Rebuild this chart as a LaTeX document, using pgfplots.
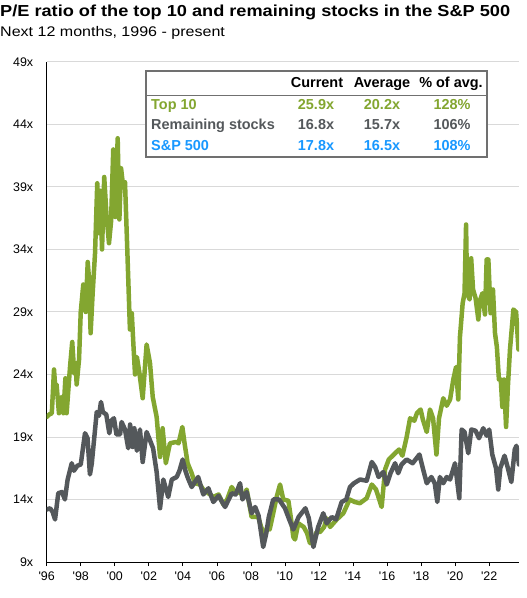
\documentclass[border=0pt]{standalone}
\usepackage{pgfplots}
\pgfplotsset{compat=1.18}
\usepackage{fontspec}
\setmainfont{Liberation Sans}

\definecolor{topgreen}{RGB}{131,166,48}
\definecolor{restgray}{RGB}{84,88,91}
\definecolor{spblue}{RGB}{24,152,255}
\definecolor{gridgray}{RGB}{217,217,217}
\definecolor{boxgray}{RGB}{112,112,112}

\begin{document}
\begin{tikzpicture}
\useasboundingbox (0,0) rectangle (527bp,598bp);

% title and subtitle
\node[anchor=base west, inner sep=0, xscale=1.14, transform shape, font=\bfseries\fontsize{16}{18}\selectfont] at (0,581bp)
  {P/E ratio of the top 10 and remaining stocks in the S\&P 500};
\node[anchor=base west, inner sep=0, xscale=1.15, transform shape, font=\fontsize{14}{16}\selectfont] at (0,561bp)
  {Next 12 months, 1996 - present};

\begin{axis}[
    at={(46.7bp,36bp)}, anchor=south west,
    scale only axis,
    width=472.3bp, height=500bp,
    xmin=1996, xmax=2023.75,
    ymin=9, ymax=49,
    axis x line*=bottom, axis y line*=left,
    axis line style={black, line width=1pt},
    xtick={1996,1998,...,2022},
    xticklabels={\textquotesingle96,\textquotesingle98,\textquotesingle00,\textquotesingle02,\textquotesingle04,\textquotesingle06,\textquotesingle08,\textquotesingle10,\textquotesingle12,\textquotesingle14,\textquotesingle16,\textquotesingle18,\textquotesingle20,\textquotesingle22},
    ytick={9,14,19,24,29,34,39,44,49},
    yticklabels={9x,14x,19x,24x,29x,34x,39x,44x,49x},
    tick label style={font=\fontsize{12.5}{14}\selectfont, black},
    xtick style={black, line width=0.8pt},
    ytick style={draw=none},
    tick align=outside,
    major tick length=4bp,
    ymajorgrids,
    grid style={gridgray, line width=1pt},
    yticklabel style={xshift=-6bp},
    xticklabel style={yshift=-2bp},
    every axis plot/.append style={line width=4.5bp, line join=round, line cap=round},
]

% Top 10
\addplot[topgreen] coordinates {
(1996.00,20.6) (1996.15,20.8) (1996.30,20.9) (1996.43,24.4) (1996.50,23.0)
(1996.58,23.2) (1996.72,20.9) (1996.85,22.2) (1996.98,20.9) (1997.10,23.7)
(1997.17,20.9) (1997.37,24.6) (1997.50,26.6) (1997.62,24.1) (1997.70,24.9)
(1997.76,23.2) (1997.90,25.2) (1998.00,29.0) (1998.15,31.2) (1998.29,29.0)
(1998.41,33.0) (1998.50,31.4) (1998.58,27.3) (1998.70,30.5) (1998.84,33.7)
(1998.97,39.3) (1999.07,35.3) (1999.15,38.7) (1999.25,34.0) (1999.38,39.8)
(1999.52,36.6) (1999.66,34.5) (1999.78,36.2) (1999.91,42.0) (2000.03,36.6)
(2000.17,42.9) (2000.27,36.4) (2000.37,40.5) (2000.47,39.3) (2000.60,39.4)
(2000.73,34.2) (2000.89,27.6) (2001.00,28.9) (2001.09,26.5) (2001.19,24.0)
(2001.30,25.4) (2001.45,24.1) (2001.64,22.1) (2001.87,26.4) (2002.07,24.9)
(2002.23,22.2) (2002.46,20.6) (2002.66,17.4) (2002.81,19.7) (2003.00,16.9)
(2003.24,18.5) (2003.60,18.6) (2003.75,18.5) (2003.97,19.8) (2004.10,18.5)
(2004.28,16.9) (2004.52,16.1) (2004.71,15.3) (2005.00,15.2) (2005.20,14.8)
(2005.50,14.5) (2005.79,14.2) (2006.10,14.4) (2006.38,13.6) (2006.60,14.0)
(2006.87,15.0) (2007.10,14.5) (2007.36,14.6) (2007.55,14.2) (2007.75,14.8)
(2008.04,12.6) (2008.43,12.6) (2008.60,11.8) (2008.83,11.0) (2008.95,11.8)
(2009.10,11.6) (2009.31,12.9) (2009.51,14.2) (2009.71,15.2) (2009.90,14.0)
(2010.20,13.9) (2010.35,12.5) (2010.49,11.0) (2010.59,10.8) (2010.78,12.1)
(2011.10,11.8) (2011.30,11.3) (2011.47,10.5) (2011.67,10.5) (2011.85,11.4)
(2012.06,11.4) (2012.30,11.8) (2012.45,12.5) (2012.65,11.8) (2013.04,12.4)
(2013.43,12.9) (2013.80,14.0) (2014.10,13.8) (2014.40,13.7) (2014.80,14.1)
(2015.10,15.2) (2015.35,14.8) (2015.68,13.4) (2015.88,16.4) (2016.10,17.2)
(2016.47,17.7) (2016.70,18.0) (2016.90,17.5) (2017.15,19.0) (2017.35,20.5)
(2017.60,20.3) (2017.75,20.9) (2017.97,21.2) (2018.10,20.4) (2018.33,19.4)
(2018.52,21.2) (2018.70,20.5) (2018.90,17.6) (2019.05,20.5) (2019.30,22.1)
(2019.50,21.5) (2019.70,22.0) (2019.89,23.6) (2020.05,24.6) (2020.18,22.0)
(2020.28,27.0) (2020.44,29.7) (2020.55,30.5) (2020.64,36.0) (2020.70,30.5)
(2020.85,30.0) (2020.94,33.3) (2021.05,30.8) (2021.20,30.1) (2021.36,28.4)
(2021.45,29.9) (2021.60,30.5) (2021.75,28.8) (2021.85,33.2) (2021.95,33.2)
(2022.08,28.9) (2022.22,30.8) (2022.34,27.3) (2022.45,26.2) (2022.57,23.6)
(2022.68,23.6) (2022.77,21.4) (2022.87,23.6) (2022.99,19.8) (2023.10,23.1)
(2023.22,26.0) (2023.42,29.2) (2023.58,29.0) (2023.72,26.0)
};

% Remaining stocks
\addplot[restgray] coordinates {
(1996.00,13.2) (1996.20,13.3) (1996.35,13.0) (1996.49,12.4) (1996.68,14.5)
(1996.90,14.6) (1997.07,14.0) (1997.23,15.6) (1997.47,16.9) (1997.60,16.3)
(1997.80,16.7) (1998.00,16.8) (1998.25,19.3) (1998.40,18.9) (1998.54,16.0)
(1998.65,16.9) (1998.94,21.0) (1999.07,20.7) (1999.19,21.8) (1999.30,21.0)
(1999.50,20.8) (1999.68,19.3) (1999.80,20.3) (1999.95,20.5) (2000.10,19.2)
(2000.31,19.2) (2000.40,20.2) (2000.60,19.6) (2000.79,18.1) (2000.90,20.0)
(2001.05,18.2) (2001.15,19.7) (2001.30,17.9) (2001.48,19.6) (2001.64,17.0)
(2001.87,19.4) (2002.05,18.8) (2002.25,18.1) (2002.46,16.2) (2002.66,13.3)
(2002.85,15.6) (2003.14,14.2) (2003.35,15.6) (2003.64,15.8) (2003.80,16.3)
(2003.99,17.2) (2004.15,16.3) (2004.30,15.7) (2004.52,15.0) (2004.90,15.8)
(2005.20,14.4) (2005.50,14.9) (2005.79,13.8) (2006.10,14.3) (2006.48,13.4)
(2006.87,14.5) (2007.10,14.4) (2007.36,15.3) (2007.50,14.0) (2007.75,14.6)
(2008.04,12.9) (2008.25,13.4) (2008.45,12.7) (2008.72,10.2) (2008.90,11.3)
(2009.05,12.6) (2009.31,14.0) (2009.65,14.0) (2010.00,13.3) (2010.25,12.4)
(2010.49,11.6) (2010.80,12.6) (2011.20,13.3) (2011.40,12.5) (2011.67,10.2)
(2011.95,11.8) (2012.25,12.9) (2012.45,12.1) (2012.75,12.6) (2013.00,12.4)
(2013.33,13.8) (2013.60,14.0) (2013.82,15.0) (2014.05,15.3) (2014.41,15.6)
(2014.80,15.5) (2015.10,17.0) (2015.30,16.6) (2015.50,15.8) (2015.78,16.2)
(2015.98,15.2) (2016.20,16.1) (2016.47,16.9) (2016.65,16.1) (2016.85,16.8)
(2017.15,17.2) (2017.50,16.9) (2017.90,17.6) (2018.10,16.5) (2018.33,15.3)
(2018.60,15.8) (2018.80,15.3) (2018.95,13.8) (2019.10,15.8) (2019.30,15.3)
(2019.50,15.8) (2019.70,15.6) (2019.99,16.9) (2020.24,14.1) (2020.38,19.6)
(2020.55,19.4) (2020.77,17.7) (2020.95,19.6) (2021.20,19.5) (2021.40,18.9)
(2021.65,19.7) (2021.85,19.1) (2022.00,19.6) (2022.18,17.6) (2022.40,16.5)
(2022.53,14.8) (2022.65,16.5) (2022.90,17.5) (2023.10,16.5) (2023.30,15.4)
(2023.50,18.0) (2023.60,18.3) (2023.75,16.8)
};
\end{axis}

% summary table
\draw[boxgray, line width=2bp, fill=white] (146bp,441bp) rectangle (487bp,527bp);
\draw[boxgray, line width=0.8bp] (146bp,503bp) -- (487bp,503bp);
\begin{scope}[every node/.style={inner sep=0, font=\bfseries\fontsize{14.5}{16}\selectfont}]
\node[anchor=base] at (317bp,510bp) {Current};
\node[anchor=base] at (382bp,510bp) {Average};
\node[anchor=base] at (451bp,510bp) {\% of avg.};
\node[anchor=base west, topgreen] at (151bp,488bp) {Top 10};
\node[anchor=base, topgreen] at (316bp,488bp) {25.9x};
\node[anchor=base, topgreen] at (382bp,488bp) {20.2x};
\node[anchor=base, topgreen] at (452bp,488bp) {128\%};
\node[anchor=base west, restgray] at (151bp,468bp) {Remaining stocks};
\node[anchor=base, restgray] at (316bp,468bp) {16.8x};
\node[anchor=base, restgray] at (382bp,468bp) {15.7x};
\node[anchor=base, restgray] at (452bp,468bp) {106\%};
\node[anchor=base west, spblue] at (151bp,447bp) {S\&P 500};
\node[anchor=base, spblue] at (316bp,447bp) {17.8x};
\node[anchor=base, spblue] at (382bp,447bp) {16.5x};
\node[anchor=base, spblue] at (452bp,447bp) {108\%};
\end{scope}
\end{tikzpicture}
\end{document}
